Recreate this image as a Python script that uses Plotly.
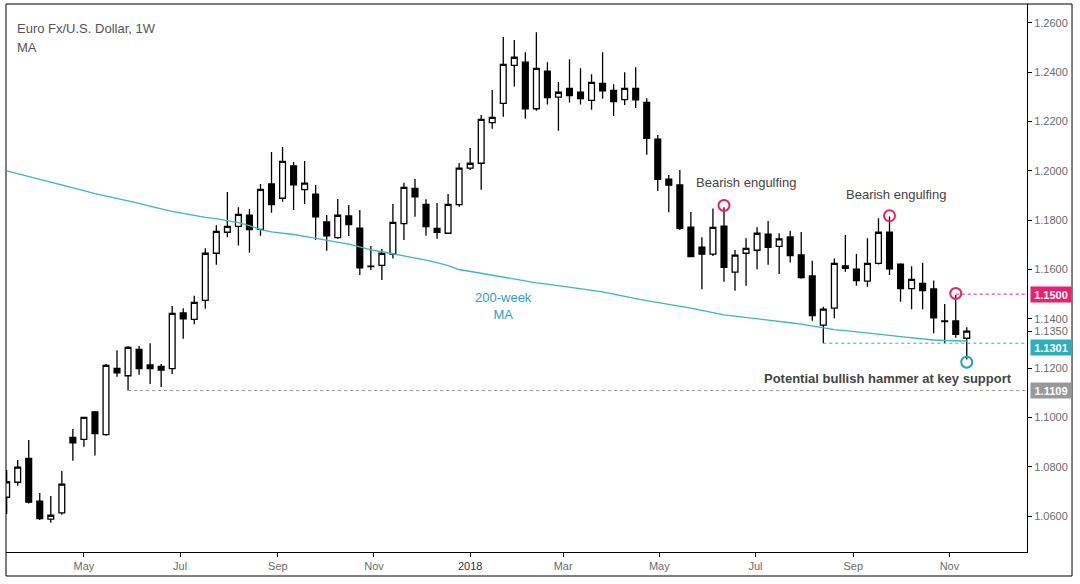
import pandas as pd
import plotly.graph_objects as go

# Weekly candles (Mar 2017 -> Nov 2018)
OPEN = [1.0676, 1.0737, 1.0834, 1.0660, 1.0587, 1.0613, 1.0919, 1.0911, 1.1022, 1.0930,
        1.1199, 1.1169, 1.1276, 1.1213, 1.1207, 1.1198, 1.1424, 1.1398, 1.1475, 1.1666,
        1.1751, 1.1775, 1.1820, 1.1763, 1.1947, 1.1889, 1.2020, 1.1924, 1.1906, 1.1793,
        1.1729, 1.1817, 1.1768, 1.1614, 1.1617, 1.1662, 1.1786, 1.1929, 1.1864, 1.1767,
        1.1747, 1.1863, 1.2011, 1.2031, 1.2196, 1.2274, 1.2428, 1.2441, 1.2252, 1.2405,
        1.2299, 1.2335, 1.2319, 1.2286, 1.2355, 1.2327, 1.2289, 1.2335, 1.2278, 1.2129,
        1.1966, 1.1943, 1.1772, 1.1691, 1.1662, 1.1776, 1.1589, 1.1666, 1.1678, 1.1743,
        1.1694, 1.1732, 1.1659, 1.1574, 1.1374, 1.1443, 1.1615, 1.1601, 1.1553, 1.1625,
        1.1751, 1.1622, 1.1522, 1.1544, 1.1521, 1.1391, 1.1391, 1.1321]
HIGH = [1.0787, 1.0827, 1.0908, 1.0693, 1.0681, 1.0783, 1.0953, 1.1003, 1.1026, 1.1217,
        1.1272, 1.1290, 1.1290, 1.1301, 1.1217, 1.1452, 1.1443, 1.1493, 1.1686, 1.1779,
        1.1914, 1.1852, 1.1845, 1.1947, 1.2077, 1.2097, 1.2036, 1.2040, 1.1943, 1.1821,
        1.1886, 1.1862, 1.1841, 1.1695, 1.1683, 1.1866, 1.1952, 1.1967, 1.1885, 1.1870,
        1.1906, 1.2032, 1.2093, 1.2227, 1.2328, 1.2543, 1.2531, 1.2481, 1.2562, 1.2441,
        1.2361, 1.2453, 1.2416, 1.2392, 1.2481, 1.2351, 1.2400, 1.2420, 1.2295, 1.2146,
        1.1983, 1.2004, 1.1833, 1.1731, 1.1847, 1.1852, 1.1679, 1.1727, 1.1771, 1.1797,
        1.1747, 1.1757, 1.1752, 1.1635, 1.1449, 1.1645, 1.1740, 1.1663, 1.1727, 1.1808,
        1.1815, 1.1625, 1.1613, 1.1626, 1.1555, 1.1460, 1.1497, 1.1366]
LOW = [1.0608, 1.0723, 1.0651, 1.0584, 1.0573, 1.0605, 1.0824, 1.0881, 1.0845, 1.0926,
       1.1165, 1.1109, 1.1173, 1.1135, 1.1123, 1.1176, 1.1319, 1.1378, 1.1441, 1.1619,
       1.1731, 1.1697, 1.1668, 1.1737, 1.1830, 1.1875, 1.1841, 1.1866, 1.1720, 1.1676,
       1.1725, 1.1736, 1.1578, 1.1598, 1.1557, 1.1645, 1.1720, 1.1814, 1.1737, 1.1725,
       1.1745, 1.1855, 1.2004, 1.1923, 1.2171, 1.2220, 1.2342, 1.2212, 1.2244, 1.2269,
       1.2163, 1.2277, 1.2269, 1.2248, 1.2293, 1.2223, 1.2267, 1.2255, 1.2065, 1.1918,
       1.1832, 1.1760, 1.1650, 1.1520, 1.1655, 1.1550, 1.1514, 1.1534, 1.1601, 1.1619,
       1.1582, 1.1628, 1.1562, 1.1392, 1.1301, 1.1402, 1.1591, 1.1534, 1.1530, 1.1620,
       1.1578, 1.1469, 1.1439, 1.1439, 1.1341, 1.1302, 1.1323, 1.1235]
CLOSE = [1.0739, 1.0798, 1.0656, 1.0589, 1.0603, 1.0729, 1.0897, 1.1000, 1.0934, 1.1211,
         1.1181, 1.1284, 1.1198, 1.1198, 1.1192, 1.1422, 1.1400, 1.1467, 1.1666, 1.1755,
         1.1775, 1.1824, 1.1762, 1.1925, 1.1863, 1.2039, 1.1943, 1.1950, 1.1814, 1.1736,
         1.1820, 1.1782, 1.1607, 1.1612, 1.1666, 1.1791, 1.1933, 1.1895, 1.1774, 1.1751,
         1.1864, 1.2011, 1.2031, 1.2209, 1.2217, 1.2432, 1.2461, 1.2252, 1.2416, 1.2297,
         1.2319, 1.2305, 1.2293, 1.2359, 1.2325, 1.2281, 1.2335, 1.2288, 1.2132, 1.1966,
         1.1942, 1.1767, 1.1652, 1.1662, 1.1771, 1.1609, 1.1658, 1.1686, 1.1747, 1.1690,
         1.1724, 1.1656, 1.1567, 1.1413, 1.1439, 1.1625, 1.1605, 1.1555, 1.1625, 1.1751,
         1.1603, 1.1522, 1.1560, 1.1514, 1.1404, 1.1389, 1.1337, 1.1350]
# 200-week moving average
MA_200 = [1.2000, 1.1989, 1.1977, 1.1966, 1.1955, 1.1944, 1.1932, 1.1920, 1.1908, 1.1897,
          1.1887, 1.1878, 1.1868, 1.1856, 1.1846, 1.1836, 1.1828, 1.1818, 1.1811, 1.1806,
          1.1799, 1.1790, 1.1778, 1.1762, 1.1753, 1.1748, 1.1742, 1.1734, 1.1727, 1.1720,
          1.1711, 1.1703, 1.1692, 1.1680, 1.1672, 1.1664, 1.1656, 1.1648, 1.1638, 1.1628,
          1.1616, 1.1600, 1.1592, 1.1584, 1.1576, 1.1568, 1.1560, 1.1553, 1.1546, 1.1541,
          1.1535, 1.1529, 1.1522, 1.1516, 1.1509, 1.1500, 1.1490, 1.1482, 1.1474, 1.1467,
          1.1459, 1.1451, 1.1443, 1.1434, 1.1424, 1.1416, 1.1411, 1.1406, 1.1402, 1.1397,
          1.1391, 1.1384, 1.1378, 1.1370, 1.1362, 1.1356, 1.1352, 1.1348, 1.1343, 1.1338,
          1.1333, 1.1328, 1.1323, 1.1318, 1.1314, 1.1312, 1.1311, 1.1310]

WEEKS = pd.date_range('2017-03-13', periods=len(OPEN), freq='7D')

# key levels: (price, week index where the line starts, colour key)
LEVELS = [(1.1500, 86, 'pink'), (1.1301, 74, 'teal'), (1.1109, 11, 'gray')]
# circled wicks: week index, price
PINK_CIRCLES = [(65, 1.1860), (80, 1.1818), (86, 1.1503)]
TEAL_CIRCLES = [(87, 1.1224)]

Y_TICKS = [1.06, 1.08, 1.10, 1.12, 1.135, 1.14, 1.16, 1.18, 1.20, 1.22, 1.24, 1.26]
X_TICKS = ['2017-05-01', '2017-07-01', '2017-09-01', '2017-11-01', '2018-01-01',
           '2018-03-01', '2018-05-01', '2018-07-01', '2018-09-01', '2018-11-01']
X_LABELS = ['May', 'Jul', 'Sep', 'Nov', '<span style="color:#333">2018</span>',
            'Mar', 'May', 'Jul', 'Sep', 'Nov']

X_START = '2017-03-12 14:00'
X_END = '2018-12-20 05:00'

COLORS = {
    'pink': '#ec1f6e',
    'teal': '#2eaebb',
    'gray': '#999999',
    'ma': '#3db5c2',
    'circle_teal': '#2a9fc6',
    'text': '#444444',
    'tick': '#6b6b6b',
}
FONT = 'Liberation Sans, Arial, sans-serif'

fig = go.Figure()

fig.add_trace(go.Scatter(
    x=WEEKS, y=MA_200, mode='lines',
    line=dict(color=COLORS['ma'], width=1.3),
    hoverinfo='skip', showlegend=False
))

fig.add_trace(go.Candlestick(
    x=WEEKS, open=OPEN, high=HIGH, low=LOW, close=CLOSE,
    increasing=dict(fillcolor='white', line=dict(color='black', width=1.3)),
    decreasing=dict(fillcolor='black', line=dict(color='black', width=1.3)),
    whiskerwidth=0, showlegend=False
))

# dotted support / resistance lines and price tags on the axis
for price, start, key in LEVELS:
    fig.add_shape(type='line', xref='x', yref='y',
                  x0=WEEKS[start], x1=X_END, y0=price, y1=price,
                  line=dict(color=COLORS[key], width=1, dash='dot'))
    fig.add_annotation(xref='paper', yref='y', x=1, y=price, xanchor='left',
                       xshift=3, yshift=-4 if key == 'teal' else 0,
                       text='<b>%.4f</b>' % price, showarrow=False,
                       font=dict(family=FONT, size=11, color='white'),
                       bgcolor=COLORS[key], width=40, height=15, borderpad=0)

fig.add_trace(go.Scatter(
    x=[WEEKS[i] for i, _ in PINK_CIRCLES], y=[p for _, p in PINK_CIRCLES],
    mode='markers', hoverinfo='skip', showlegend=False,
    marker=dict(symbol='circle-open', size=11, color=COLORS['pink'],
                line=dict(width=2, color=COLORS['pink']))
))
fig.add_trace(go.Scatter(
    x=[WEEKS[i] for i, _ in TEAL_CIRCLES], y=[p for _, p in TEAL_CIRCLES],
    mode='markers', hoverinfo='skip', showlegend=False,
    marker=dict(symbol='circle-open', size=11, color=COLORS['circle_teal'],
                line=dict(width=2, color=COLORS['circle_teal']))
))

# chart notes
notes = [
    ('2018-06-25', 1.1951, 'Bearish engulfing', COLORS['text'], 13),
    ('2018-09-28', 1.1906, 'Bearish engulfing', COLORS['text'], 13),
    ('2018-09-23', 1.1158, '<b>Potential bullish hammer at key support</b>', COLORS['text'], 13),
    ('2018-01-22', 1.1452, '200-week<br>MA', COLORS['circle_teal'], 13),
]
for x, y, text, color, size in notes:
    fig.add_annotation(x=x, y=y, text=text, showarrow=False,
                       font=dict(family=FONT, size=size, color=color))

# header
fig.add_annotation(xref='paper', yref='paper', x=0.0088, y=0.9726, xanchor='left',
                   text='Euro Fx/U.S. Dollar, 1W', showarrow=False,
                   font=dict(family=FONT, size=13, color='#555555'))
fig.add_annotation(xref='paper', yref='paper', x=0.0088, y=0.938, xanchor='left',
                   text='MA', showarrow=False,
                   font=dict(family=FONT, size=13, color='#555555'))

# outer frame round plot and axis strips
fig.add_shape(type='rect', xref='paper', yref='paper',
              x0=0, x1=1.0441, y0=-0.0438, y1=1,
              line=dict(color='black', width=1))

fig.update_layout(
    width=1080, height=584,
    margin=dict(l=6, r=53, t=4, b=32),
    paper_bgcolor='white', plot_bgcolor='white',
    boxgap=0.25, boxgroupgap=0.3,
    showlegend=False,
    font=dict(family=FONT, size=11, color=COLORS['tick']),
    xaxis=dict(
        type='date', range=[X_START, X_END],
        rangeslider=dict(visible=False),
        tickvals=X_TICKS, ticktext=X_LABELS,
        ticks='outside', ticklen=4, tickcolor='black',
        showline=True, linecolor='black', linewidth=1,
        showgrid=False, zeroline=False,
    ),
    yaxis=dict(
        side='right', range=[1.0454, 1.2677],
        tickvals=Y_TICKS, ticktext=['%.4f' % v for v in Y_TICKS],
        ticks='outside', ticklen=4, tickcolor='black',
        showline=True, linecolor='black', linewidth=1,
        showgrid=False, zeroline=False,
    ),
)

# page body has a default 8px margin; drop it so the chart sits at the window corner
fig.write_html('out.html', config={'displayModeBar': False},
               post_script="document.body.style.margin='0';")
